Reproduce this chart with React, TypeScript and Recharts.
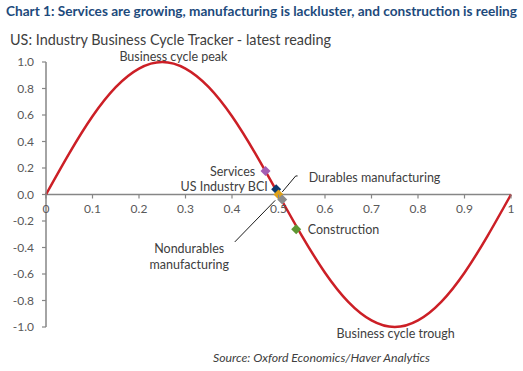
import { ComposedChart, Line, Scatter, XAxis, YAxis, ReferenceLine, ReferenceDot } from 'recharts';

// cycle curve (phase 0..1, reading -1..1)
const cycleX = [0, 0.05, 0.1, 0.15, 0.2, 0.25, 0.3, 0.35, 0.4, 0.45, 0.5, 0.55, 0.6, 0.65, 0.7, 0.75, 0.8, 0.85, 0.9, 0.95, 1];
const cycleY = [0, 0.31, 0.59, 0.81, 0.95, 1.0, 0.95, 0.81, 0.59, 0.31, 0, -0.31, -0.59, -0.81, -0.95, -1.0, -0.95, -0.81, -0.59, -0.31, 0];

// latest readings
const readingNames = ['Services', 'US Industry BCI', 'Durables manufacturing', 'Nondurables manufacturing', 'Construction'];
const readingX = [0.472, 0.495, 0.5, 0.508, 0.538];
const readingY = [0.177, 0.039, 0.0, -0.038, -0.262];
const readingColors = ['#A45DB3', '#0B3A6E', '#E0A21A', '#8C8C8C', '#5E9632'];

const xTicks = [0, 0.1, 0.2, 0.3, 0.4, 0.5, 0.6, 0.7, 0.8, 0.9, 1];
const yTicks = [-1, -0.8, -0.6, -0.4, -0.2, 0, 0.2, 0.4, 0.6, 0.8, 1];

// text annotations in data coordinates
const notes = [
  { text: 'Business cycle peak', x: 0.274, y: 1.038, anchor: 'middle' },
  { text: 'Business cycle trough', x: 0.752, y: -1.05, anchor: 'middle' },
  { text: 'Services', x: 0.45, y: 0.17, anchor: 'end' },
  { text: 'US Industry BCI', x: 0.477, y: 0.057, anchor: 'end' },
  { text: 'Durables manufacturing', x: 0.565, y: 0.132, anchor: 'start' },
  { text: 'Nondurables', x: 0.308, y: -0.406, anchor: 'middle' },
  { text: 'manufacturing', x: 0.308, y: -0.527, anchor: 'middle' },
  { text: 'Construction', x: 0.563, y: -0.265, anchor: 'start' },
];

// leader lines
const leaders = [
  [{ x: 0.541, y: 0.14 }, { x: 0.537, y: 0.14 }],
  [{ x: 0.537, y: 0.14 }, { x: 0.508, y: 0.019 }],
  [{ x: 0.493, y: -0.044 }, { x: 0.406, y: -0.358 }],
];

const curve = cycleX.map((x, i) => ({ x, y: cycleY[i] }));

const W = 523;
const H = 371;
const M = { top: 62, right: 12, bottom: 14, left: 0 };
const X_AXIS_H = 30;
const PLOT_H = H - M.top - M.bottom - X_AXIS_H;
const FONT = 'Lato, "Open Sans", sans-serif';
const AXIS = '#868686';
const TEXT = '#404040';

const XTick = (props: any) => {
  const { x, y, payload } = props;
  const zeroY = y - PLOT_H / 2;
  return (
    <g>
      <line x1={x} x2={x} y1={zeroY} y2={zeroY + 4} stroke={AXIS} strokeWidth={1.2} />
      <text x={x} y={zeroY + 18} textAnchor="middle" fontSize={12} fill="#595959" fontFamily={FONT}>
        {payload.value === 0 || payload.value === 1 ? String(payload.value) : payload.value.toFixed(1)}
      </text>
    </g>
  );
};

const Diamond = (color: string) => (props: any) => {
  const { cx, cy } = props;
  const r = 5;
  return <path d={`M${cx},${cy - r}L${cx + r},${cy}L${cx},${cy + r}L${cx - r},${cy}Z`} fill={color} />;
};

export default function App() {
  return (
    <div style={{ position: 'absolute', top: 0, left: 0, width: W, height: H, background: '#fff' }}>
      <svg width={W} height={H} style={{ position: 'absolute', top: 0, left: 0 }}>
        <text x={6} y={16} fontSize={13} fontWeight="bold" fill="#1D4A7C" fontFamily={FONT} textLength={511} lengthAdjust="spacingAndGlyphs">
          Chart 1: Services are growing, manufacturing is lackluster, and construction is reeling
        </text>
        <text x={10} y={45} fontSize={15} fill={TEXT} fontFamily={FONT} textLength={321} lengthAdjust="spacingAndGlyphs">
          US: Industry Business Cycle Tracker - latest reading
        </text>
        <text x={213} y={362} fontSize={12} fontStyle="italic" fill={TEXT} fontFamily={FONT} textLength={217} lengthAdjust="spacingAndGlyphs">
          Source: Oxford Economics/Haver Analytics
        </text>
      </svg>
      <div style={{ position: 'absolute', top: 0, left: 0 }}>
        <ComposedChart width={W} height={H} data={curve} margin={M}>
          <XAxis
            type="number"
            dataKey="x"
            domain={[0, 1]}
            ticks={xTicks}
            height={X_AXIS_H}
            axisLine={false}
            tickLine={false}
            tickSize={0}
            tickMargin={0}
            tick={<XTick />}
            interval={0}
          />
          <YAxis
            type="number"
            dataKey="y"
            domain={[-1, 1]}
            ticks={yTicks}
            width={46}
            axisLine={{ stroke: AXIS, strokeWidth: 1.5 }}
            tickLine={{ stroke: AXIS, strokeWidth: 1.2 }}
            tickSize={4}
            tickMargin={8}
            tick={{ fontSize: 12, fill: '#595959', fontFamily: FONT }}
            tickFormatter={(v: number) => v.toFixed(1)}
            interval={0}
          />
          <ReferenceLine y={0} stroke={AXIS} strokeWidth={1.5} />
          <Line
            data={curve}
            dataKey="y"
            type="natural"
            stroke="#CC1F26"
            strokeWidth={2.5}
            dot={false}
            activeDot={false}
            isAnimationActive={false}
          />
          {leaders.map((seg, i) => (
            <ReferenceLine key={'l' + i} segment={seg} stroke="#000" strokeWidth={0.9} ifOverflow="visible" />
          ))}
          {readingNames.map((name, i) => (
            <Scatter
              key={name}
              name={name}
              data={[{ x: readingX[i], y: readingY[i] }]}
              dataKey="y"
              shape={Diamond(readingColors[i])}
              isAnimationActive={false}
            />
          ))}
          {notes.map((n, i) => (
            <ReferenceDot
              key={'n' + i}
              x={n.x}
              y={n.y}
              r={0}
              ifOverflow="visible"
              shape={(p: any) => (
                <text x={p.cx} y={p.cy} textAnchor={n.anchor as any} dominantBaseline="central" fontSize={12.5} fill={TEXT} fontFamily={FONT}>
                  {n.text}
                </text>
              )}
            />
          ))}
        </ComposedChart>
      </div>
    </div>
  );
}
